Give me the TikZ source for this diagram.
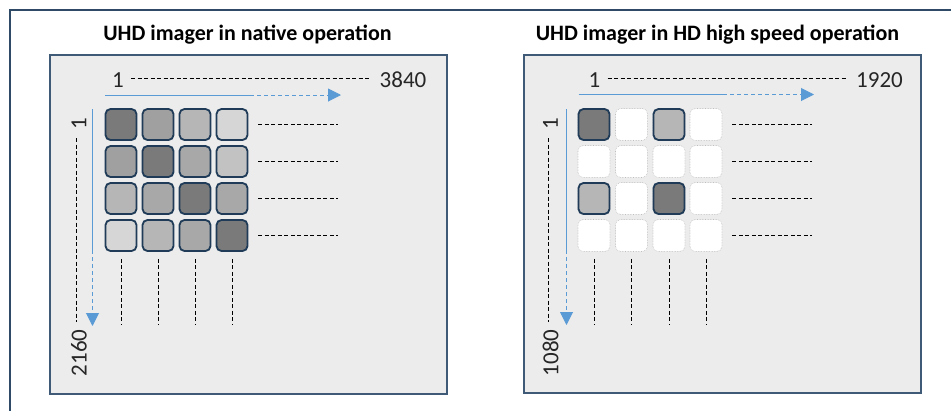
\documentclass[tikz,border=0pt]{standalone}
\usepackage{fontspec}
\setmainfont{Carlito}
\usetikzlibrary{arrows.meta}
\definecolor{frameblue}{HTML}{2E4A66}
\definecolor{panelbg}{HTML}{ECECEC}
\definecolor{panelline}{HTML}{3E5A77}
\definecolor{cellline}{HTML}{1F3B57}
\definecolor{arrowblue}{HTML}{5B9BD5}
\definecolor{gA}{HTML}{7A7A7A}
\definecolor{gB}{HTML}{A0A0A0}
\definecolor{gC}{HTML}{B6B6B6}
\definecolor{gD}{HTML}{D6D6D6}
\definecolor{gE}{HTML}{A8A8A8}
\definecolor{gF}{HTML}{C2C2C2}
\tikzset{
  panel/.style={draw=panelline, line width=1.6pt, fill=panelbg},
  title/.style={font=\bfseries\fontsize{22}{26}\selectfont, text=black, inner sep=0pt},
  num/.style={font=\fontsize{23}{27}\selectfont, text=black!85, inner sep=3pt},
  pix/.style={draw=cellline, line width=1.8pt, rounded corners=5pt, minimum size=31pt, inner sep=0pt},
  offpix/.style={draw=black!25, densely dotted, line width=0.6pt, fill=white, rounded corners=5pt, minimum size=32pt, inner sep=0pt},
  blk/.style={dash pattern=on 4pt off 2.5pt, line width=0.8pt, black},
  bluesolid/.style={arrowblue, line width=1pt},
  bluedash/.style={arrowblue, line width=1pt, dash pattern=on 4pt off 3pt, -{Triangle[length=13pt,width=13pt]}},
}
\begin{document}
\begin{tikzpicture}[x=1pt,y=-1pt]
\useasboundingbox (0,0) rectangle (951,410);
% outer frame
\draw[frameblue, line width=2.4pt] (10,412) -- (10,10) -- (953,10);
% titles
\node[title] (t1) at (247.5,35) {UHD imager in native operation};
\node[title] (t2) at (717.5,35) {UHD imager in HD high speed operation};
% panels
\draw[panel] (50,55) rectangle (447,394);
\draw[panel] (524,55) rectangle (921,393);

% ---------- left panel ----------
\node[num] (la1) at (118,80) {1};
\node[num] (la2) at (403,80) {3840};
\draw[blk, shorten <=4pt, shorten >=5pt] ([yshift=1.5pt]la1.east) -- ([yshift=1.5pt]la2.west);
\node[num, rotate=90] (lb1) at (79,124) {1};
\node[num, rotate=90] (lb2) at (79,353) {2160};
\draw[blk, shorten <=5pt, shorten >=4pt] ([xshift=-2.5pt]lb1.west) -- ([xshift=-2.5pt]lb2.east);
\coordinate (lh0) at (105,95);
\coordinate (lh1) at (250,95);
\coordinate (lh2) at (341,95);
\draw[bluesolid] (lh0) -- (lh1);
\draw[bluedash] (lh1) -- (lh2);
\coordinate (lv0) at (92.5,109);
\coordinate (lv1) at (92.5,250);
\coordinate (lv2) at (92.5,326);
\draw[bluesolid] (lv0) -- (lv1);
\draw[bluedash] (lv1) -- (lv2);

\foreach \r/\y in {1/124.5,2/161.5,3/198.5,4/235.5}{
  \foreach \c/\x in {1/121,2/158,3/195,4/232}{
    \coordinate (Lp\r\c) at (\x,\y);
  }
}
\node[pix, fill=gA] (L11) at (Lp11) {};
\node[pix, fill=gB] (L12) at (Lp12) {};
\node[pix, fill=gC] (L13) at (Lp13) {};
\node[pix, fill=gD] (L14) at (Lp14) {};
\node[pix, fill=gB] (L21) at (Lp21) {};
\node[pix, fill=gA] (L22) at (Lp22) {};
\node[pix, fill=gE] (L23) at (Lp23) {};
\node[pix, fill=gF] (L24) at (Lp24) {};
\node[pix, fill=gC] (L31) at (Lp31) {};
\node[pix, fill=gE] (L32) at (Lp32) {};
\node[pix, fill=gA] (L33) at (Lp33) {};
\node[pix, fill=gE] (L34) at (Lp34) {};
\node[pix, fill=gD] (L41) at (Lp41) {};
\node[pix, fill=gC] (L42) at (Lp42) {};
\node[pix, fill=gE] (L43) at (Lp43) {};
\node[pix, fill=gA] (L44) at (Lp44) {};
\foreach \r in {1,2,3,4}{
  \draw[blk] ([xshift=10pt]L\r4.east) -- ++(80,0);
}
\foreach \c in {1,2,3,4}{
  \draw[blk] ([yshift=-7pt]L4\c.south) -- ++(0,66);
}

% ---------- right panel ----------
\node[num] (ra1) at (594.5,80) {1};
\node[num] (ra2) at (879.5,80) {1920};
\draw[blk, shorten <=4pt, shorten >=5pt] ([yshift=1.5pt]ra1.east) -- ([yshift=1.5pt]ra2.west);
\node[num, rotate=90] (rb1) at (550.5,124) {1};
\node[num, rotate=90] (rb2) at (550.5,353) {1080};
\draw[blk, shorten <=5pt, shorten >=4pt] ([xshift=-2.5pt]rb1.west) -- ([xshift=-2.5pt]rb2.east);
\coordinate (rh0) at (578.5,94.5);
\coordinate (rh1) at (723,94.5);
\coordinate (rh2) at (814,94.5);
\draw[bluesolid] (rh0) -- (rh1);
\draw[bluedash] (rh1) -- (rh2);
\coordinate (rv0) at (566.5,109);
\coordinate (rv1) at (566.5,250);
\coordinate (rv2) at (566.5,325);
\draw[bluesolid] (rv0) -- (rv1);
\draw[bluedash] (rv1) -- (rv2);

\foreach \r/\y in {1/124.5,2/161.5,3/198.5,4/235.5}{
  \foreach \c/\x in {1/594,2/631.5,3/669,4/706}{
    \node[offpix] (R\r\c) at (\x,\y) {};
  }
}
\node[pix, fill=gA] (R11x) at (R11) {};
\node[pix, fill=gC] (R13x) at (R13) {};
\node[pix, fill=gC] (R31x) at (R31) {};
\node[pix, fill=gA] (R33x) at (R33) {};
\foreach \r in {1,2,3,4}{
  \draw[blk] ([xshift=10pt]R\r4.east) -- ++(80,0);
}
\foreach \c in {1,2,3,4}{
  \draw[blk] ([yshift=-7pt]R4\c.south) -- ++(0,66);
}
\end{tikzpicture}
\end{document}
